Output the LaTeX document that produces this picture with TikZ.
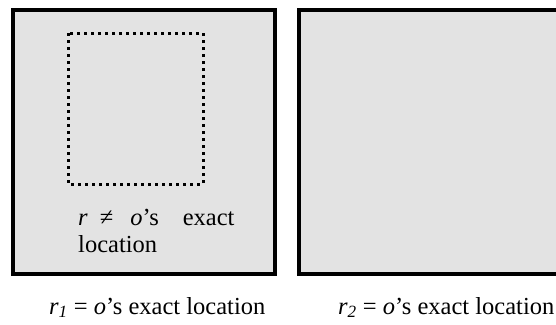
\documentclass[tikz,border=0pt]{standalone}
\usepackage{fontspec}
\setmainfont{Liberation Serif}
\usetikzlibrary{positioning}
\definecolor{panelgray}{RGB}{227,227,227}

\begin{document}
\begin{tikzpicture}[x=1pt,y=-1pt,
    panel/.style={draw=black, line width=4pt, fill=panelgray},
    region/.style={draw=black, line width=3pt, dash pattern=on 3pt off 4pt},
    txt/.style={font=\fontsize{24.5}{27}\selectfont, inner sep=0pt, anchor=base west}]
  \useasboundingbox (0,0) rectangle (556,324);
  \clip (0,0) rectangle (556,324);
  % Linkes Feld
  \draw[panel] (13,10) rectangle (275,274);
  \draw[region] (68,33) rectangle (203,184);
  \node[txt] (neq) at (78,225) {\textit{r}\hspace{12pt}≠\hspace{17pt}\textit{o}’s\hspace{24pt}exact};
  \node[txt] (loc) at (78,252) {location};
  % Rechtes Feld
  \draw[panel] (299,10) rectangle (562,274);
  % Beschriftungen
  \node[txt] (lab1) at (49,314) {\textit{r\textsubscript{1}} = \textit{o}’s exact location};
  \node[txt] (lab2) at (338,314) {\textit{r\textsubscript{2}} = \textit{o}’s exact location};
\end{tikzpicture}
\end{document}
